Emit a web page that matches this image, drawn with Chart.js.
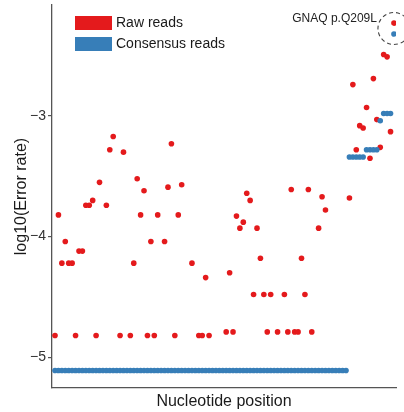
<!DOCTYPE html>
<html lang="en">
<head>
  <meta charset="UTF-8"/>
  <title>Error rate by nucleotide position</title>
  <script src="https://cdn.jsdelivr.net/npm/chart.js"></script>
  <style>
    body {
      margin: 0;
      background: #fff;
    }

    .wrap {
      width: 404px;
      height: 412px;
      position: relative;
    }
  </style>
</head>
<body>
  <div class="wrap">
    <canvas id="errChart"></canvas>
  </div>

  <script>
    // nucleotide positions 1..100
    const positions = Array.from({ length: 100 }, (_, i) => i + 1);

    // log10 error rate, raw reads (null = no error seen)
    const rawReads = [
      -4.82, -3.82, -4.22, -4.04, -4.22, -4.22, -4.82, -4.12, -4.12, -3.74,
      -3.74, -3.70, -4.82, -3.55, null, -3.74, -3.28, -3.17, null, -4.82,
      -3.30, null, -4.82, -4.22, -3.52, -3.82, -3.62, -4.82, -4.04, -4.82,
      -3.82, null, -4.04, -3.59, -3.23, -4.82, -3.82, -3.57, null, null,
      -4.22, null, -4.82, -4.82, -4.34, -4.82, null, null, null, null,
      -4.79, -4.30, -4.79, -3.83, -3.93, -3.88, -3.64, -3.70, -4.48, -3.93,
      -4.18, -4.48, -4.79, -4.48, null, -4.79, null, -4.48, -4.79, -3.61,
      -4.79, -4.79, -4.18, -4.48, -3.61, -4.79, null, -3.93, -3.67, -3.78,
      null, null, null, null, null, null, -3.68, -2.74, -3.28, -3.08,
      -3.10, -2.93, -3.35, -2.69, -3.03, -3.26, -2.49, -2.51, -3.13, -2.23
    ];

    // log10 error rate, consensus reads
    const consensusReads = [
      -5.11, -5.11, -5.11, -5.11, -5.11, -5.11, -5.11, -5.11, -5.11, -5.11,
      -5.11, -5.11, -5.11, -5.11, -5.11, -5.11, -5.11, -5.11, -5.11, -5.11,
      -5.11, -5.11, -5.11, -5.11, -5.11, -5.11, -5.11, -5.11, -5.11, -5.11,
      -5.11, -5.11, -5.11, -5.11, -5.11, -5.11, -5.11, -5.11, -5.11, -5.11,
      -5.11, -5.11, -5.11, -5.11, -5.11, -5.11, -5.11, -5.11, -5.11, -5.11,
      -5.11, -5.11, -5.11, -5.11, -5.11, -5.11, -5.11, -5.11, -5.11, -5.11,
      -5.11, -5.11, -5.11, -5.11, -5.11, -5.11, -5.11, -5.11, -5.11, -5.11,
      -5.11, -5.11, -5.11, -5.11, -5.11, -5.11, -5.11, -5.11, -5.11, -5.11,
      -5.11, -5.11, -5.11, -5.11, -5.11, -5.11, -3.34, -3.34, -3.34, -3.34,
      -3.34, -3.28, -3.28, -3.28, -3.28, -3.04, -2.98, -2.98, -2.98, -2.32
    ];

    const yTicks = [-5, -4, -3];
    const seriesNames = ["Raw reads", "Consensus reads"];
    const seriesColors = ["#e41a1c", "#377eb8"];
    const annotationText = "GNAQ p.Q209L";

    const FONT = '"Liberation Sans", Arial, sans-serif';

    function toPoints(values) {
      const pts = [];
      values.forEach((v, i) => {
        if (v !== null) pts.push({ x: positions[i], y: v });
      });
      return pts;
    }

    // legend box + dashed circle round the last position
    const overlay = {
      id: 'overlay',
      afterDraw(chart) {
        const { ctx, scales: { x, y } } = chart;
        const last = positions.length - 1;
        const cx = x.getPixelForValue(positions[last]);
        const cy = (y.getPixelForValue(rawReads[last]) + y.getPixelForValue(consensusReads[last])) / 2;

        ctx.save();
        ctx.setLineDash([4, 3]);
        ctx.strokeStyle = '#444';
        ctx.lineWidth = 1.1;
        ctx.beginPath();
        ctx.arc(cx, cy, 16, 0, Math.PI * 2);
        ctx.stroke();
        ctx.setLineDash([]);

        ctx.font = '12px ' + FONT;
        ctx.fillStyle = '#222';
        ctx.textAlign = 'right';
        ctx.textBaseline = 'middle';
        ctx.fillText(annotationText, cx - 17, cy - 10);

        ctx.font = '14px ' + FONT;
        ctx.textAlign = 'left';
        seriesNames.forEach((name, k) => {
          const top = 16 + k * 21;
          ctx.fillStyle = seriesColors[k];
          ctx.fillRect(75, top, 37, 14);
          ctx.fillStyle = '#1a1a1a';
          ctx.fillText(name, 116, top + 7.5);
        });
        ctx.restore();
      }
    };

    new Chart(document.getElementById('errChart'), {
      type: 'scatter',
      data: {
        datasets: [
          {
            label: seriesNames[0],
            data: toPoints(rawReads),
            backgroundColor: seriesColors[0],
            borderWidth: 0,
            pointRadius: 2.8,
            order: 2
          },
          {
            label: seriesNames[1],
            data: toPoints(consensusReads),
            backgroundColor: seriesColors[1],
            borderWidth: 0,
            pointRadius: 2.8,
            order: 1
          }
        ]
      },
      options: {
        responsive: true,
        maintainAspectRatio: false,
        animation: false,
        layout: {
          autoPadding: false,
          padding: { top: 5, right: 8, left: 0, bottom: 0 }
        },
        plugins: {
          legend: { display: false },
          tooltip: { enabled: false }
        },
        scales: {
          x: {
            type: 'linear',
            min: 0.12,
            max: 100.6,
            afterFit: s => { s.height = 24; s.paddingLeft = 0; s.paddingRight = 0; },
            grid: { display: false },
            border: { color: '#555', width: 1.3 },
            ticks: { display: false },
            title: {
              display: true,
              text: 'Nucleotide position',
              color: '#1a1a1a',
              font: { family: FONT, size: 16, lineHeight: 1.2 },
              padding: { top: 0, bottom: 1 }
            }
          },
          y: {
            min: -5.255,
            max: -2.08,
            afterFit: s => { s.width = 52; s.paddingTop = 0; s.paddingBottom = 0; },
            afterBuildTicks: s => { s.ticks = yTicks.map(v => ({ value: v })); },
            grid: {
              drawOnChartArea: false,
              color: '#555',
              lineWidth: 1.2,
              tickLength: 4
            },
            border: { color: '#555', width: 1.3 },
            ticks: {
              color: '#333',
              padding: 2,
              font: { family: FONT, size: 14 },
              callback: v => String(v).replace('-', '\u2212')
            },
            title: {
              display: true,
              text: 'log10(Error rate)',
              color: '#1a1a1a',
              font: { family: FONT, size: 16, lineHeight: 1.2 },
              padding: { top: 12, bottom: 0 }
            }
          }
        }
      },
      plugins: [overlay]
    });
  </script>
</body>
</html>
